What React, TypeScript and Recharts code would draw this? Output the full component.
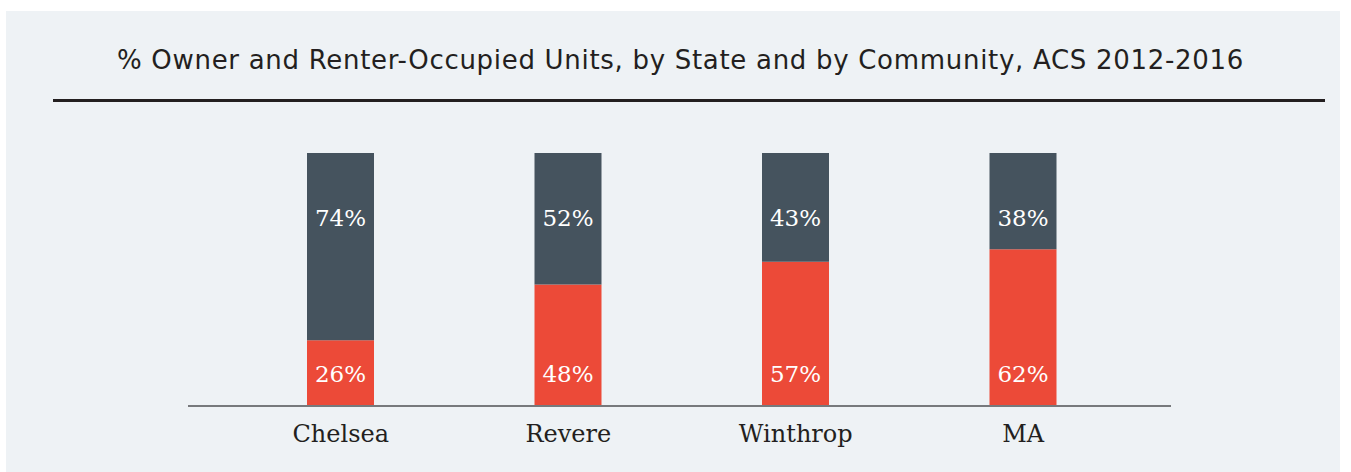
import { BarChart, Bar, XAxis, YAxis, LabelList } from 'recharts';

const communities = ['Chelsea', 'Revere', 'Winthrop', 'MA'];
const ownerPct = [26, 48, 57, 62];
const renterPct = [74, 52, 43, 38];

const TITLE = '% Owner and Renter-Occupied Units, by State and by Community, ACS 2012-2016';

const OWNER_COLOR = '#ec4a38';
const RENTER_COLOR = '#45535e';
const PANEL_BG = '#eef2f5';

const data = communities.map((name, i) => ({
  name,
  owner: ownerPct[i],
  renter: renterPct[i],
}));

function TopLabel(props: any) {
  const { x, y, width, value } = props;
  return (
    <text
      x={x + width / 2}
      y={y + 65}
      dy="0.36em"
      textAnchor="middle"
      fill="#ffffff"
      fontFamily="DejaVu Serif"
      fontSize={23}
    >
      {value}%
    </text>
  );
}

function BottomLabel(props: any) {
  const { x, y, width, height, value } = props;
  return (
    <text
      x={x + width / 2}
      y={y + height - 32}
      dy="0.36em"
      textAnchor="middle"
      fill="#ffffff"
      fontFamily="DejaVu Serif"
      fontSize={23}
    >
      {value}%
    </text>
  );
}

function Tick(props: any) {
  const { x, y, payload } = props;
  return (
    <text
      x={x}
      y={y}
      dy={28}
      textAnchor="middle"
      fill="#231f20"
      fontFamily="DejaVu Serif"
      fontSize={24}
    >
      {payload.value}
    </text>
  );
}

export default function App() {
  return (
    <div style={{ position: 'absolute', left: 0, top: 0, width: 1351, height: 472, background: '#fff' }}>
      <div
        style={{
          position: 'absolute',
          left: 6,
          top: 11,
          width: 1334,
          height: 461,
          background: PANEL_BG,
        }}
      />
      <div
        style={{
          position: 'absolute',
          left: 0,
          width: 1361,
          top: 40,
          textAlign: 'center',
          fontFamily: 'DejaVu Sans',
          fontSize: 26,
          letterSpacing: 0.7,
          color: '#231f20',
          lineHeight: '40px',
          whiteSpace: 'nowrap',
        }}
      >
        {TITLE}
      </div>
      <div
        style={{
          position: 'absolute',
          left: 53,
          top: 99,
          width: 1272,
          height: 3,
          background: '#231f20',
        }}
      />
      <div style={{ position: 'absolute', left: 0, top: 0 }}>
        <BarChart
          width={1351}
          height={472}
          data={data}
          margin={{ top: 153, right: 180, bottom: 36, left: 188 }}
          barCategoryGap={80}
        >
          <YAxis hide domain={[0, 100]} />
          <XAxis
            dataKey="name"
            axisLine={{ stroke: '#77797c', strokeWidth: 2 }}
            tickLine={false}
            tick={<Tick />}
            padding={{ left: 39, right: 34 }}
            interval={0}
          />
          <Bar dataKey="owner" stackId="a" fill={OWNER_COLOR} barSize={67} isAnimationActive={false}>
            <LabelList dataKey="owner" content={<BottomLabel />} />
          </Bar>
          <Bar dataKey="renter" stackId="a" fill={RENTER_COLOR} barSize={67} isAnimationActive={false}>
            <LabelList dataKey="renter" content={<TopLabel />} />
          </Bar>
        </BarChart>
      </div>
    </div>
  );
}
